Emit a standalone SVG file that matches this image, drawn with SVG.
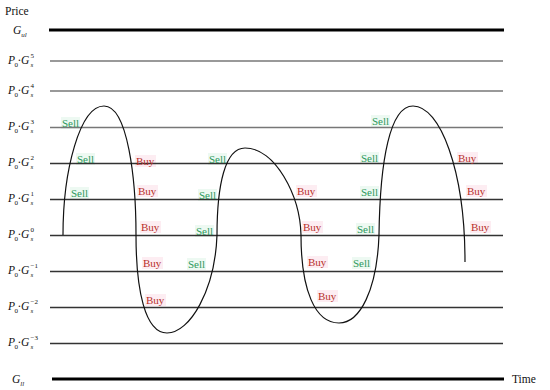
<svg xmlns="http://www.w3.org/2000/svg" width="550" height="390" viewBox="0 0 550 390">
<style>
.t{font-family:"Liberation Serif","Times New Roman",serif;font-size:11.5px;fill:#111}
.i{font-style:italic}
.s{font-size:7px}
.gl{stroke:#333;stroke-width:1.3}
.gg{stroke:#777;stroke-width:1.5}
.thick{stroke:#000;stroke-width:3}
.sell{font-family:"Liberation Serif","Times New Roman",serif;font-size:11px;fill:#2e9a5c}
.buy{font-family:"Liberation Serif","Times New Roman",serif;font-size:11px;fill:#b8302a}
.sb{fill:#edf9f2}
.bb{fill:#fdedf2}
.curve{fill:none;stroke:#111;stroke-width:1.2}
</style>
<rect width="550" height="390" fill="#fff"/>
<g id="label-backgrounds">
<rect class="sb" x="61" y="117" width="19" height="12"/>
<rect class="sb" x="76" y="153" width="19" height="12"/>
<rect class="sb" x="70" y="187" width="19" height="12"/>
<rect class="sb" x="208" y="153" width="19" height="12"/>
<rect class="sb" x="198" y="189" width="19" height="12"/>
<rect class="sb" x="195" y="225" width="19" height="12"/>
<rect class="sb" x="187" y="258" width="19" height="12"/>
<rect class="sb" x="371" y="115" width="19" height="12"/>
<rect class="sb" x="360" y="152" width="19" height="12"/>
<rect class="sb" x="360" y="186" width="19" height="12"/>
<rect class="sb" x="356" y="223" width="19" height="12"/>
<rect class="sb" x="352" y="257" width="19" height="12"/>
<rect class="bb" x="135" y="155" width="21" height="12"/>
<rect class="bb" x="137" y="185" width="21" height="12"/>
<rect class="bb" x="140" y="221" width="21" height="12"/>
<rect class="bb" x="142" y="257" width="21" height="12"/>
<rect class="bb" x="145" y="294" width="21" height="12"/>
<rect class="bb" x="296" y="185" width="21" height="12"/>
<rect class="bb" x="302" y="221" width="21" height="12"/>
<rect class="bb" x="307" y="256" width="21" height="12"/>
<rect class="bb" x="317" y="290" width="21" height="12"/>
<rect class="bb" x="457" y="152" width="21" height="12"/>
<rect class="bb" x="466" y="185" width="21" height="12"/>
<rect class="bb" x="470" y="221" width="21" height="12"/>
</g>
<g id="grid">
<line class="thick" x1="49" y1="30" x2="504" y2="30"/>
<line class="gg" x1="50" y1="61" x2="503" y2="61"/>
<line class="gg" x1="50" y1="91" x2="503" y2="91"/>
<line class="gg" x1="50" y1="127.5" x2="503" y2="127.5"/>
<line class="gl" x1="50" y1="163.5" x2="503" y2="163.5"/>
<line class="gl" x1="50" y1="199.5" x2="503" y2="199.5"/>
<line class="gl" x1="50" y1="235.5" x2="503" y2="235.5"/>
<line class="gl" x1="50" y1="271.5" x2="503" y2="271.5"/>
<line class="gl" x1="50" y1="307.5" x2="503" y2="307.5"/>
<line class="gl" x1="50" y1="343.5" x2="503" y2="343.5"/>
<line class="thick" x1="52" y1="379" x2="504" y2="379"/>
</g>
<g id="axis-labels">
<text class="t" x="5" y="15">Price</text>
<text class="t" x="512" y="383">Time</text>
<text class="t i" x="13" y="34">G<tspan class="s" dy="3">ul</tspan></text>
<text class="t i" x="12" y="383">G<tspan class="s" dy="3">ll</tspan></text>
</g>
<g id="level-labels">
<g id="l5"><text class="t i" x="8" y="64">P</text><text class="t s" x="14.5" y="67">0</text><text class="t" x="17.5" y="64">·</text><text class="t i" x="21" y="64">G</text><text class="t s" x="30.5" y="58">5</text><text class="t s i" x="30.5" y="67">s</text></g>
<g id="l4"><text class="t i" x="8" y="94">P</text><text class="t s" x="14.5" y="97">0</text><text class="t" x="17.5" y="94">·</text><text class="t i" x="21" y="94">G</text><text class="t s" x="30.5" y="88">4</text><text class="t s i" x="30.5" y="97">s</text></g>
<g id="l3"><text class="t i" x="8" y="130">P</text><text class="t s" x="14.5" y="133">0</text><text class="t" x="17.5" y="130">·</text><text class="t i" x="21" y="130">G</text><text class="t s" x="30.5" y="124">3</text><text class="t s i" x="30.5" y="133">s</text></g>
<g id="l2"><text class="t i" x="8" y="166">P</text><text class="t s" x="14.5" y="169">0</text><text class="t" x="17.5" y="166">·</text><text class="t i" x="21" y="166">G</text><text class="t s" x="30.5" y="160">2</text><text class="t s i" x="30.5" y="169">s</text></g>
<g id="l1"><text class="t i" x="8" y="202">P</text><text class="t s" x="14.5" y="205">0</text><text class="t" x="17.5" y="202">·</text><text class="t i" x="21" y="202">G</text><text class="t s" x="30.5" y="196">1</text><text class="t s i" x="30.5" y="205">s</text></g>
<g id="l0"><text class="t i" x="8" y="238">P</text><text class="t s" x="14.5" y="241">0</text><text class="t" x="17.5" y="238">·</text><text class="t i" x="21" y="238">G</text><text class="t s" x="30.5" y="232">0</text><text class="t s i" x="30.5" y="241">s</text></g>
<g id="lm1"><text class="t i" x="8" y="274">P</text><text class="t s" x="14.5" y="277">0</text><text class="t" x="17.5" y="274">·</text><text class="t i" x="21" y="274">G</text><text class="t s" x="30.5" y="268">−1</text><text class="t s i" x="30.5" y="277">s</text></g>
<g id="lm2"><text class="t i" x="8" y="310">P</text><text class="t s" x="14.5" y="313">0</text><text class="t" x="17.5" y="310">·</text><text class="t i" x="21" y="310">G</text><text class="t s" x="30.5" y="304">−2</text><text class="t s i" x="30.5" y="313">s</text></g>
<g id="lm3"><text class="t i" x="8" y="346">P</text><text class="t s" x="14.5" y="349">0</text><text class="t" x="17.5" y="346">·</text><text class="t i" x="21" y="346">G</text><text class="t s" x="30.5" y="340">−3</text><text class="t s i" x="30.5" y="349">s</text></g>
</g>
<g id="connectors">
<path class="curve" d="M63,235 C63,170 80,106 104,106 C128,106 136,180 136,235 C136,290 145,333 167,333 C190,333 215,290 217,235 C217,185 225,148 245,148 C275,148 300,195 301,235 C301,290 315,323 339,323 C360,323 377,290 379,235 C380,160 390,106 413,106 C440,106 465,170 465,262"/>
</g>
<g id="sell-labels">
<text class="sell" x="62" y="127">Sell</text>
<text class="sell" x="77" y="163">Sell</text>
<text class="sell" x="71" y="197">Sell</text>
<text class="sell" x="209" y="163">Sell</text>
<text class="sell" x="199" y="199">Sell</text>
<text class="sell" x="196" y="235">Sell</text>
<text class="sell" x="188" y="268">Sell</text>
<text class="sell" x="372" y="125">Sell</text>
<text class="sell" x="361" y="162">Sell</text>
<text class="sell" x="361" y="196">Sell</text>
<text class="sell" x="357" y="233">Sell</text>
<text class="sell" x="353" y="267">Sell</text>
</g>
<g id="buy-labels">
<text class="buy" x="136" y="165">Buy</text>
<text class="buy" x="138" y="195">Buy</text>
<text class="buy" x="141" y="231">Buy</text>
<text class="buy" x="143" y="267">Buy</text>
<text class="buy" x="146" y="304">Buy</text>
<text class="buy" x="297" y="195">Buy</text>
<text class="buy" x="303" y="231">Buy</text>
<text class="buy" x="308" y="266">Buy</text>
<text class="buy" x="318" y="300">Buy</text>
<text class="buy" x="458" y="162">Buy</text>
<text class="buy" x="467" y="195">Buy</text>
<text class="buy" x="471" y="231">Buy</text>
</g>
</svg>
